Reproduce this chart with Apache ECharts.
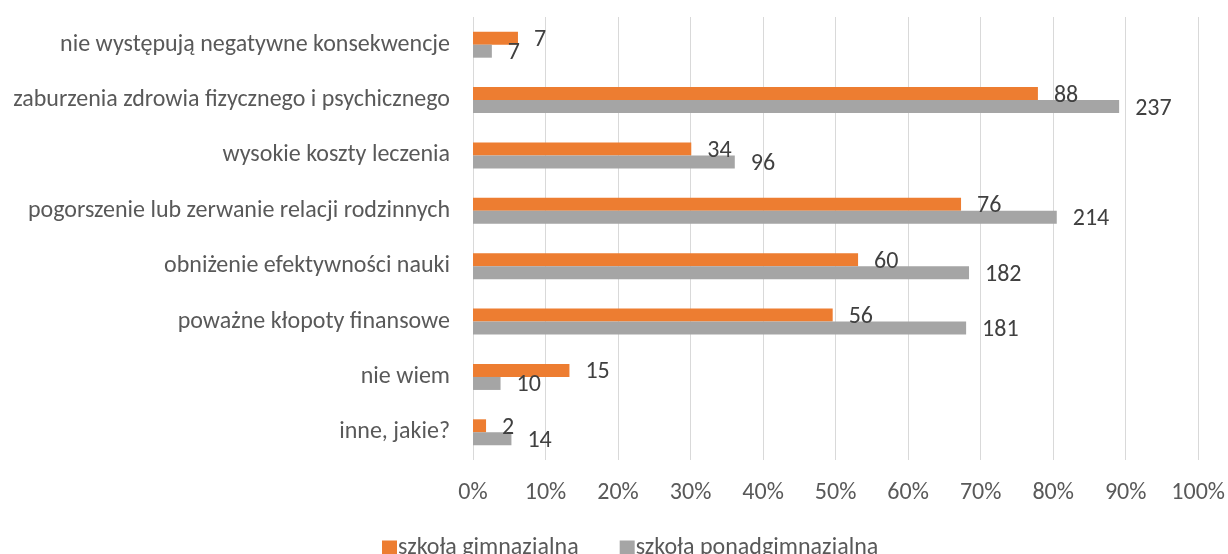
<!DOCTYPE html>
<html>
<head>
<meta charset="utf-8">
<script src="https://cdn.jsdelivr.net/npm/echarts@6/dist/echarts.min.js"></script>
<style>
  html, body { margin: 0; padding: 0; background: #fff; }
  #main { width: 1228px; height: 554px; }
</style>
</head>
<body>
<div id="main"></div>
<script>
// kategorie (od góry)
var categories = [
  'nie występują negatywne konsekwencje',
  'zaburzenia zdrowia fizycznego i psychicznego',
  'wysokie koszty leczenia',
  'pogorszenie lub zerwanie relacji rodzinnych',
  'obniżenie efektywności nauki',
  'poważne kłopoty finansowe',
  'nie wiem',
  'inne, jakie?'
];
// procenty (długość słupka)
var gimPercent = [6.2, 77.9, 30.1, 67.3, 53.1, 49.6, 13.3, 1.8];
var ponadPercent = [2.6, 89.1, 36.1, 80.5, 68.4, 68.0, 3.8, 5.3];
// liczby odpowiedzi (etykiety)
var gimCounts = [7, 88, 34, 76, 60, 56, 15, 2];
var ponadCounts = [7, 237, 96, 214, 182, 181, 10, 14];
var xTicks = [0, 10, 20, 30, 40, 50, 60, 70, 80, 90, 100];

var FONT = 'Carlito, Lato, sans-serif';
var FS = 24;

var myChart = echarts.init(document.getElementById('main'));
myChart.setOption({
  animation: false,
  textStyle: { fontFamily: FONT },
  grid: { left: 473, right: 29, top: 17, bottom: 94, containLabel: false },
  legend: {
    top: 531,
    left: 377,
    itemWidth: 15,
    itemHeight: 15,
    itemGap: 41,
    icon: 'rect',
    textStyle: { color: '#595959', fontSize: FS, fontFamily: FONT, padding: [0, 0, 0, -4] },
    data: ['szkoła gimnazjalna', 'szkoła ponadgimnazjalna']
  },
  xAxis: {
    type: 'value',
    min: xTicks[0],
    max: xTicks[xTicks.length - 1],
    interval: 10,
    axisLine: { show: false },
    axisTick: { show: false },
    axisLabel: {
      color: '#595959',
      fontSize: FS,
      margin: 21,
      formatter: function (v) { return v + '%'; }
    },
    splitLine: { lineStyle: { color: '#d9d9d9', width: 1 } }
  },
  yAxis: {
    type: 'category',
    inverse: true,
    data: categories,
    axisLine: { show: false },
    axisTick: { show: false },
    axisLabel: { color: '#595959', fontSize: FS, margin: 23 }
  },
  series: [
    {
      name: 'szkoła gimnazjalna',
      type: 'bar',
      data: gimPercent,
      barWidth: 13,
      barGap: '0%',
      itemStyle: { color: '#ED7D31' },
      label: {
        show: true,
        position: 'right',
        distance: 16,
        offset: [0, 2],
        color: '#404040',
        fontSize: FS,
        formatter: function (p) { return gimCounts[p.dataIndex]; }
      }
    },
    {
      name: 'szkoła ponadgimnazjalna',
      type: 'bar',
      data: ponadPercent,
      barWidth: 13,
      barGap: '0%',
      itemStyle: { color: '#A5A5A5' },
      label: {
        show: true,
        position: 'right',
        distance: 16,
        offset: [0, 2],
        color: '#404040',
        fontSize: FS,
        formatter: function (p) { return ponadCounts[p.dataIndex]; }
      }
    }
  ]
});
</script>
</body>
</html>
